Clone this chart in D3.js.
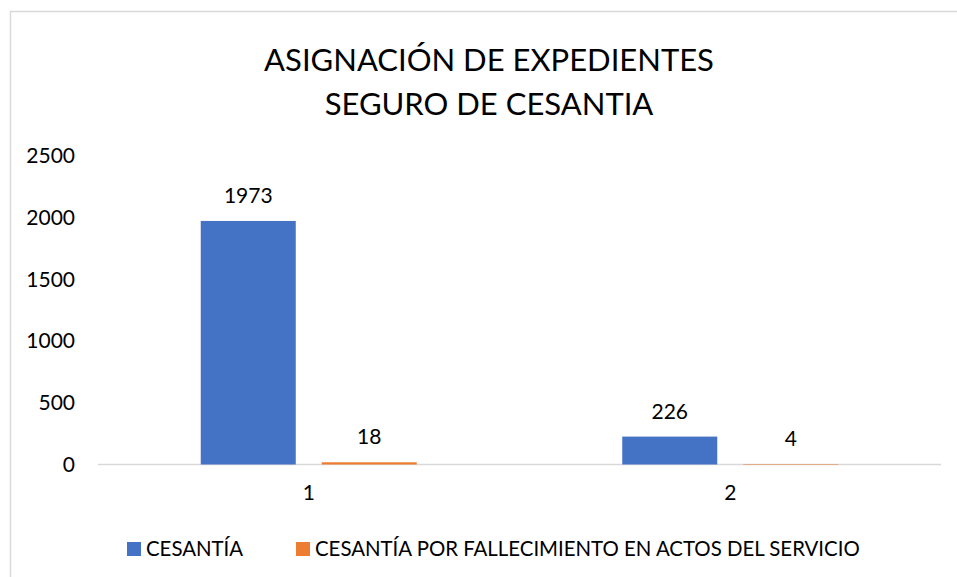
<!DOCTYPE html>
<html>
<head>
<meta charset="utf-8">
<script src="https://cdn.jsdelivr.net/npm/d3@7/dist/d3.min.js"></script>
<style>
  html, body { margin: 0; padding: 0; background: #fff; }
  svg { display: block; }
  text { font-family: Lato, "Open Sans", sans-serif; fill: #000; }
</style>
</head>
<body>
<svg id="chart" width="957" height="577"></svg>
<script>
const titleLines = ["ASIGNACIÓN DE EXPEDIENTES", "SEGURO DE CESANTIA"];
const categories = ["1", "2"];
const seriesNames = ["CESANTÍA", "CESANTÍA POR FALLECIMIENTO EN ACTOS DEL SERVICIO"];
const cesantia = [1973, 226];
const fallecimiento = [18, 4];
const yTicks = [0, 500, 1000, 1500, 2000, 2500];
const colors = ["#4472C4", "#ED7D31"];

const seriesValues = [cesantia, fallecimiento];
const svg = d3.select("#chart");

// chart border
svg.append("rect").attr("x", 10.5).attr("y", 11.5).attr("width", 1000).attr("height", 600)
  .attr("fill", "none").attr("stroke", "#d9d9d9").attr("stroke-width", 1.5);

// title
const title = svg.append("text").attr("text-anchor", "middle").style("font-size", "31px");
titleLines.forEach((t, i) => {
  title.append("tspan").attr("x", 489).attr("y", 71 + i * 44).text(t);
});

const x0 = d3.scaleBand().domain(categories).range([98, 941]).paddingInner(0).paddingOuter(0);
const groupWidth = 216;
const x1 = d3.scaleBand().domain(d3.range(seriesNames.length)).range([0, groupWidth]).paddingInner(26 / 121).paddingOuter(0);
const y = d3.scaleLinear().domain([0, 2500]).range([464.5, 155.9]);

// y axis labels
const yAxis = d3.axisLeft(y).tickValues(yTicks).tickFormat(d3.format("d")).tickSize(0).tickPadding(0);
const ya = svg.append("g").attr("transform", "translate(75,0)").call(yAxis);
ya.select(".domain").remove();
ya.selectAll("text").style("font-size", "21px").style("font-family", "Lato, sans-serif").attr("fill", "#000");

// baseline
svg.append("line").attr("x1", 98).attr("x2", 941).attr("y1", y(0)).attr("y2", y(0))
  .attr("stroke", "#d9d9d9").attr("stroke-width", 1.5);

// x axis labels
const xAxis = d3.axisBottom(x0).tickSize(0).tickPadding(0);
const xa = svg.append("g").attr("transform", `translate(0,${y(0) + 21})`).call(xAxis);
xa.select(".domain").remove();
xa.selectAll("text").style("font-size", "21px").style("font-family", "Lato, sans-serif").attr("fill", "#000");

// bars
const groups = svg.append("g").selectAll("g").data(categories).join("g")
  .attr("transform", d => `translate(${x0(d) + (x0.bandwidth() - groupWidth) / 2},0)`);
groups.each(function(cat, ci) {
  const g = d3.select(this);
  seriesValues.forEach((vals, si) => {
    const v = vals[ci];
    g.append("rect").attr("x", x1(si)).attr("width", x1.bandwidth())
      .attr("y", y(v)).attr("height", y(0) - y(v)).attr("fill", colors[si]);
    g.append("text").attr("x", x1(si) + x1.bandwidth() / 2).attr("y", y(v) - 18)
      .attr("text-anchor", "middle").style("font-size", "21px").text(v);
  });
});

// legend
const legend = svg.append("g");
const legendX = [127, 296];
seriesNames.forEach((name, i) => {
  legend.append("rect").attr("x", legendX[i]).attr("y", 542).attr("width", 14).attr("height", 14).attr("fill", colors[i]);
  legend.append("text").attr("x", legendX[i] + 19).attr("y", 556).style("font-size", "20.4px").text(name);
});
</script>
</body>
</html>
